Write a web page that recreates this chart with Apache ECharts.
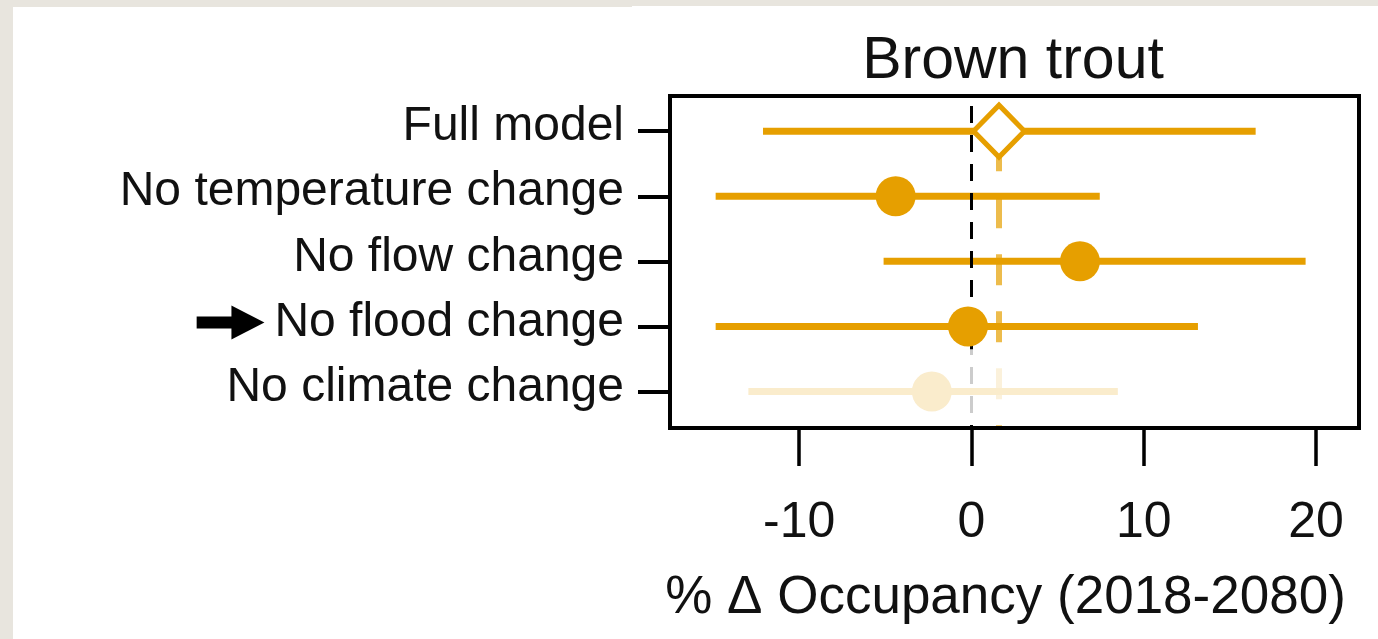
<!DOCTYPE html>
<html>
<head>
<meta charset="utf-8">
<title>Brown trout</title>
<script src="https://cdn.jsdelivr.net/npm/echarts@6/dist/echarts.min.js"></script>
<style>
  html, body { margin: 0; padding: 0; background: #fff; }
  #wrap { position: relative; width: 1378px; height: 639px; background: #fff; overflow: hidden; }
  .edge { position: absolute; background: #e8e5de; }
  #chart { position: absolute; left: 0; top: 0; width: 1378px; height: 639px; }
</style>
</head>
<body>
<div id="wrap">
  <div class="edge" style="left:0;top:0;width:1378px;height:6px"></div>
  <div class="edge" style="left:0;top:0;width:632px;height:7px"></div>
  <div class="edge" style="left:0;top:0;width:13px;height:639px"></div>
  <div id="chart"></div>
</div>
<script>
// Scenario estimates of % change in occupancy, 2018-2080, with interval bounds
const scenarios = ['Full model', 'No temperature change', 'No flow change', 'No flood change', 'No climate change'];
const estimate = [1.6, -4.4, 6.3, -0.2, -2.3];
const lower = [-12.1, -14.85, -5.1, -14.85, -12.95];
const upper = [16.5, 7.45, 19.4, 13.15, 8.5];
const xTicks = [-10, 0, 10, 20];
const chartTitle = 'Brown trout';
const axisTitle = '% \u0394 Occupancy (2018-2080)';
const highlighted = 'No flood change';
const faded = 'No climate change';

const ORANGE = '#E69F00';
const FONT = '"Liberation Sans", Arial, Helvetica, sans-serif';
const X_MIN = -17.5, X_MAX = 22.5;
const Y_MIN = -0.54, Y_MAX = 4.56;
const rowIdx = scenarios.map((_, i) => i);

// black pointer drawn in front of the highlighted scenario label
const arrowSvg = '<svg xmlns="http://www.w3.org/2000/svg" width="78" height="36" viewBox="0 0 78 36">' +
  '<rect x="0" y="12" width="37" height="12" fill="#000"/>' +
  '<polygon points="35,1 68,18 35,35" fill="#000"/></svg>';
const arrowImg = 'data:image/svg+xml;charset=utf-8,' + encodeURIComponent(arrowSvg);

const fadedRow = scenarios.indexOf(faded);

const chart = echarts.init(document.getElementById('chart'), null, { renderer: 'canvas' });

chart.setOption({
  animation: false,
  backgroundColor: 'transparent',
  title: {
    text: chartTitle,
    left: 1013, top: 32, padding: 0,
    textAlign: 'center',
    textStyle: { fontFamily: FONT, fontSize: 59, fontWeight: 'normal', color: '#111' }
  },
  grid: {
    left: 670, top: 96, width: 689, height: 332,
    show: true, borderColor: '#000', borderWidth: 4, backgroundColor: 'transparent',
    z: 10
  },
  xAxis: {
    type: 'value', min: X_MIN, max: X_MAX, position: 'bottom',
    axisLine: { show: false, onZero: false },
    splitLine: { show: false },
    axisTick: { show: true, customValues: xTicks, length: 38, lineStyle: { color: '#000', width: 3.5 } },
    axisLabel: { customValues: xTicks, margin: 70, fontSize: 50, fontFamily: FONT, color: '#111' },
    name: axisTitle, nameLocation: 'middle', nameGap: 144,
    nameTextStyle: { fontSize: 53, fontFamily: FONT, color: '#111', padding: [0, 18, 0, 0] }
  },
  yAxis: {
    type: 'value', inverse: true, min: Y_MIN, max: Y_MAX, position: 'left',
    axisLine: { show: false, onZero: false },
    splitLine: { show: false },
    axisTick: { show: true, customValues: rowIdx, length: 32, lineStyle: { color: '#000', width: 4 } },
    axisLabel: {
      customValues: rowIdx,
      margin: 46,
      fontSize: 48, fontFamily: FONT, color: '#111',
      padding: [0, 0, 8, 0],
      formatter: v => {
        const name = scenarios[Math.round(v)] || '';
        return name === highlighted ? '{arrow|}' + name : name;
      },
      rich: {
        arrow: { width: 78, height: 36, backgroundColor: { image: arrowImg } }
      }
    }
  },
  series: [
    {
      // interval bars
      type: 'custom',
      z: 2,
      data: rowIdx.map(i => [i, lower[i], upper[i]]),
      encode: { x: [1, 2], y: 0 },
      renderItem: (params, api) => {
        const i = api.value(0);
        const a = api.coord([api.value(1), i]);
        const b = api.coord([api.value(2), i]);
        return {
          type: 'line',
          shape: { x1: a[0], y1: a[1], x2: b[0], y2: b[1] },
          style: { stroke: ORANGE, lineWidth: 7, lineCap: 'butt' }
        };
      },
      markLine: {
        silent: true, symbol: 'none', z: 3,
        label: { show: false },
        data: [
          // no-change reference
          { xAxis: 0, lineStyle: { color: '#000', width: 3, type: [17, 12] } },
          // full model estimate carried down the rows
          [
            { coord: [estimate[0], 0] },
            { coord: [estimate[0], Y_MAX] }
          ]
        ],
        lineStyle: { color: 'rgba(230,159,0,0.7)', width: 6, type: [31, 26], dashOffset: 48 }
      }
    },
    {
      // scenario estimates
      type: 'scatter',
      z: 4,
      symbol: 'circle', symbolSize: 40,
      itemStyle: { color: ORANGE, opacity: 1 },
      data: rowIdx.slice(1).map(i => [estimate[i], i]),
      markArea: {
        silent: true, z: 6,
        itemStyle: { color: 'rgba(255,255,255,0.8)' },
        data: [[{ yAxis: fadedRow - 0.65 }, { yAxis: fadedRow + 0.35 }]]
      }
    },
    {
      // full model estimate
      type: 'scatter',
      z: 4,
      symbol: 'diamond', symbolSize: [51, 52],
      itemStyle: { color: '#fff', borderColor: ORANGE, borderWidth: 5, opacity: 1 },
      data: [[estimate[0], 0]]
    }
  ]
});
</script>
</body>
</html>
